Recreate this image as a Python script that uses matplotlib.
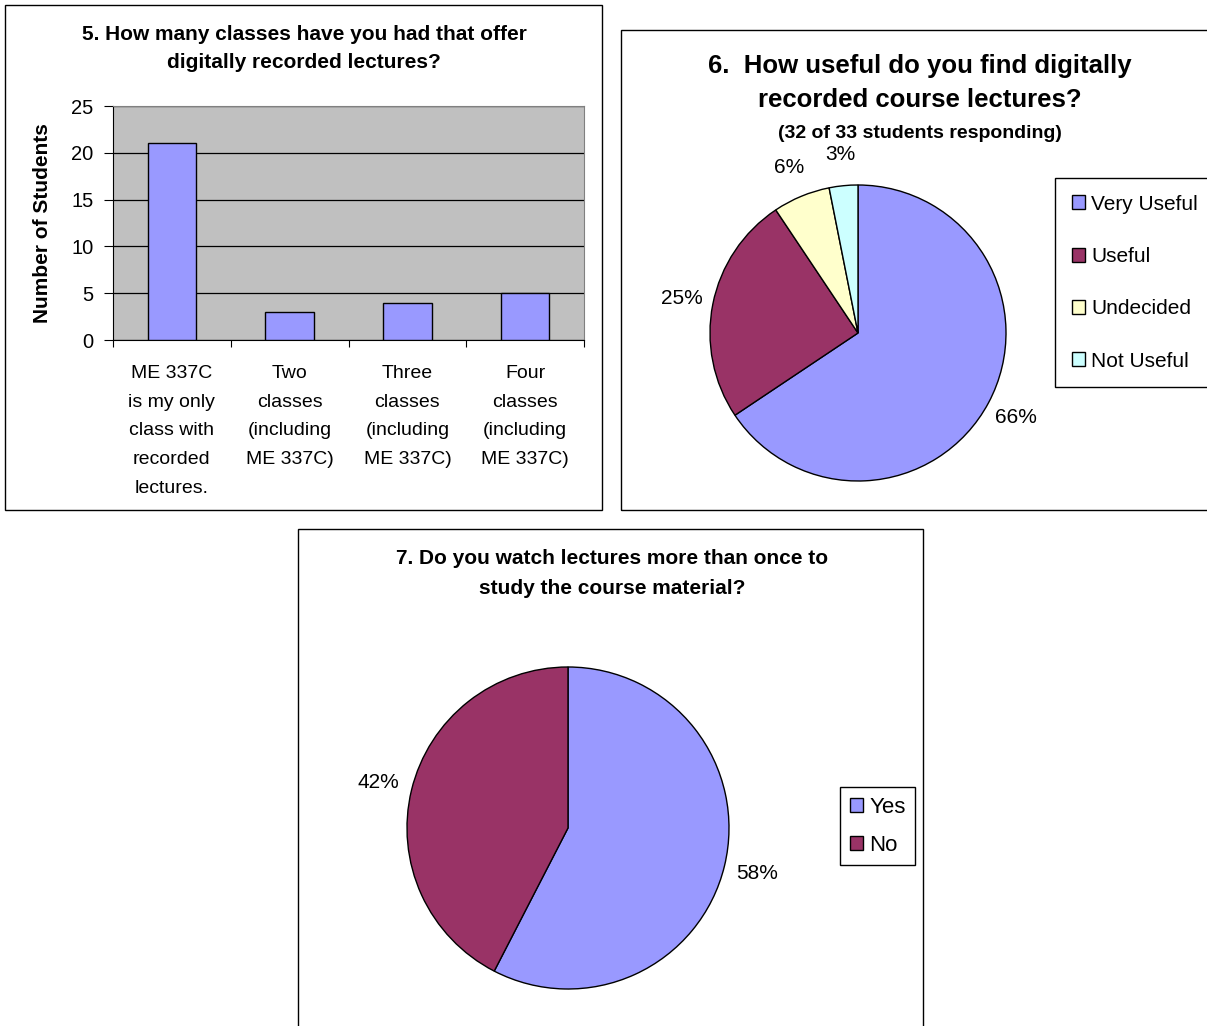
import matplotlib
matplotlib.use('Agg')
import matplotlib.pyplot as plt
from matplotlib.patches import Rectangle

plt.rcParams['font.family'] = ['Liberation Sans', 'DejaVu Sans']

W, H = 1207, 1026
DPI = 100

# ---------------- data ----------------
bar_categories = [
    "ME 337C\nis my only\nclass with\nrecorded\nlectures.",
    "Two\nclasses\n(including\nME 337C)",
    "Three\nclasses\n(including\nME 337C)",
    "Four\nclasses\n(including\nME 337C)",
]
bar_values = [21, 3, 4, 5]
y_ticks = [0, 5, 10, 15, 20, 25]

useful_labels = ["Very Useful", "Useful", "Undecided", "Not Useful"]
useful_counts = [21, 8, 2, 1]

rewatch_labels = ["Yes", "No"]
rewatch_counts = [19, 14]

# ---------------- styles ----------------
C_BLUE = '#9999FF'
C_MAROON = '#993366'
C_YELLOW = '#FFFFCC'
C_CYAN = '#CCFFFF'
pie1_colors = [C_BLUE, C_MAROON, C_YELLOW, C_CYAN]
pie2_colors = [C_BLUE, C_MAROON]

fig = plt.figure(figsize=(W / DPI, H / DPI), dpi=DPI)
fig.patch.set_facecolor('white')


def px_axes(x0, y0, x1, y1):
    return fig.add_axes([x0 / W, 1 - y1 / H, (x1 - x0) / W, (y1 - y0) / H])


def box(x0, y0, x1, y1):
    fig.add_artist(Rectangle((x0 / W, 1 - y1 / H), (x1 - x0) / W, (y1 - y0) / H,
                             transform=fig.transFigure, fill=False,
                             edgecolor='black', linewidth=1))


def ftext(x, y, s, **kw):
    fig.text(x / W, 1 - y / H, s, ha='center', va='center', **kw)


# ---------------- panel boxes ----------------
box(5, 5, 602, 510)
box(621, 30, 1215, 510)
box(298, 529, 923, 1035)

# ---------------- bar chart ----------------
ftext(304, 34, "5. How many classes have you had that offer", fontsize=15, fontweight='bold')
ftext(304, 63, "digitally recorded lectures?", fontsize=15, fontweight='bold')

ax = px_axes(113, 106, 584, 340)
ax.set_facecolor('#C0C0C0')
x = list(range(len(bar_values)))
ax.bar(x, bar_values, width=0.41, color=C_BLUE, edgecolor='black', linewidth=1, zorder=3)
ax.set_xlim(-0.5, len(bar_values) - 0.5)
ax.set_ylim(y_ticks[0], y_ticks[-1])
ax.set_yticks(y_ticks)
ax.yaxis.grid(True, color='black', linewidth=0.9, zorder=1)
ax.set_axisbelow(True)
ax.set_xticks([i - 0.5 for i in range(len(bar_values) + 1)])
ax.set_xticklabels([])
ax.set_xticks(x, minor=True)
ax.set_xticklabels(bar_categories, minor=True, fontsize=14, linespacing=1.9, va='top')
ax.tick_params(axis='x', which='minor', length=0, pad=18)
ax.tick_params(axis='x', which='major', length=5, direction='out', color='black')
ax.tick_params(axis='y', length=6.5, direction='out', labelsize=14.5, pad=7.5)
for s in ['top', 'right']:
    ax.spines[s].set_color('#808080')
for s in ['left', 'bottom']:
    ax.spines[s].set_color('black')
ax.set_ylabel("Number of Students", fontsize=15, fontweight='bold')
ax.yaxis.set_label_coords(-0.1295, 0.5)

# ---------------- pie 1 ----------------
ftext(920, 66, "6.  How useful do you find digitally", fontsize=18.5, fontweight='bold')
ftext(920, 100, "recorded course lectures?", fontsize=18.5, fontweight='bold')
ftext(920, 133, "(32 of 33 students responding)", fontsize=14, fontweight='bold')

ax2 = px_axes(710, 185, 1006, 481)
w1, _, _ = ax2.pie(useful_counts, colors=pie1_colors, startangle=90, counterclock=False,
                   wedgeprops=dict(edgecolor='black', linewidth=1),
                   autopct='%1.0f%%', pctdistance=1.21,
                   textprops=dict(fontsize=15))
ax2.set_xlim(-1, 1)
ax2.set_ylim(-1, 1)
ax2.set_aspect('equal')
leg1 = ax2.legend(w1, useful_labels, loc='upper left',
                  bbox_to_anchor=(1055 / W, 1 - 178 / H), bbox_transform=fig.transFigure,
                  frameon=True, fancybox=False, edgecolor='black', framealpha=1,
                  borderaxespad=0, fontsize=15, labelspacing=1.6,
                  handlelength=0.65, handleheight=0.65, handletextpad=0.3, borderpad=0.8)
leg1.get_frame().set_linewidth(1)

# ---------------- pie 2 ----------------
ftext(612, 558, "7. Do you watch lectures more than once to", fontsize=15, fontweight='bold')
ftext(612, 588, "study the course material?", fontsize=15, fontweight='bold')

ax3 = px_axes(407, 667, 729, 989)
w2, _, _ = ax3.pie(rewatch_counts, colors=pie2_colors, startangle=90, counterclock=False,
                   wedgeprops=dict(edgecolor='black', linewidth=1),
                   autopct='%1.0f%%', pctdistance=1.21,
                   textprops=dict(fontsize=15))
ax3.set_xlim(-1, 1)
ax3.set_ylim(-1, 1)
ax3.set_aspect('equal')
leg2 = ax3.legend(w2, rewatch_labels, loc='upper left',
                  bbox_to_anchor=(840 / W, 1 - 787 / H), bbox_transform=fig.transFigure,
                  frameon=True, fancybox=False, edgecolor='black', framealpha=1,
                  borderaxespad=0, fontsize=16, labelspacing=0.77,
                  handlelength=0.6, handleheight=0.6, handletextpad=0.3, borderpad=0.43)
leg2.get_frame().set_linewidth(1)

fig.savefig('out.png', dpi=DPI)
